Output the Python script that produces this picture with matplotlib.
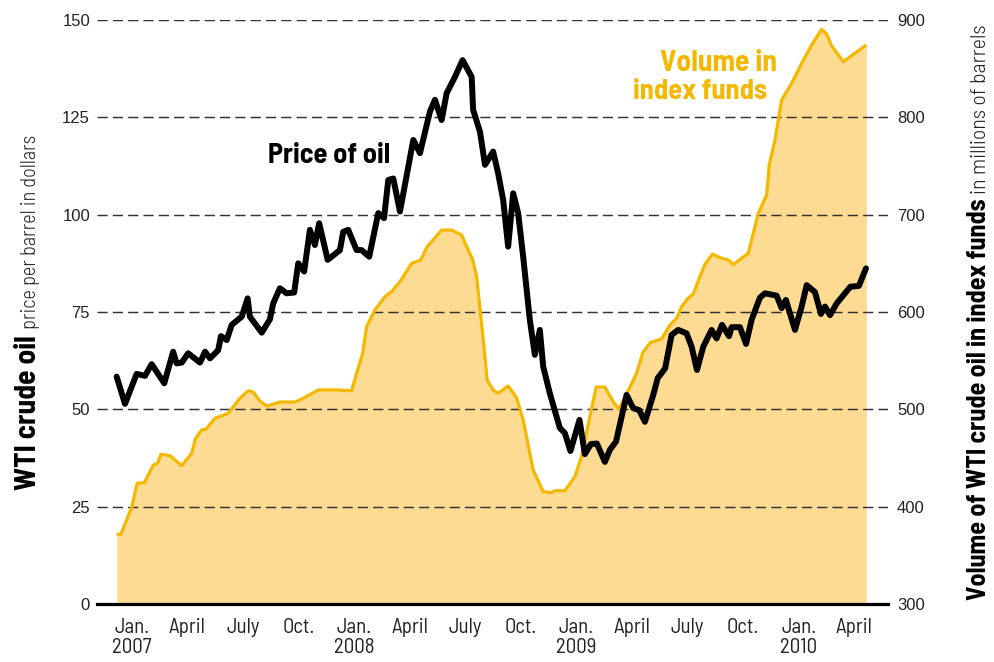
import os
import matplotlib
matplotlib.use("Agg")
import matplotlib.pyplot as plt
from matplotlib import font_manager as fm

# ---------------- data (months since Jan. 2007) ----------------
price_months = [-0.81, -0.36, 0.27, 0.72, 1.08, 1.76, 2.24, 2.43, 2.70, 3.05,
                3.69, 3.96, 4.23, 4.67, 4.82, 5.13, 5.40, 5.94, 6.26, 6.38,
                7.02, 7.46, 7.64, 8.00, 8.36, 8.77, 8.99, 9.31, 9.62, 9.89,
                10.12, 10.58, 11.24, 11.42, 11.69, 12.14, 12.41, 12.82, 13.31, 13.62,
                13.85, 14.12, 14.48, 15.20, 15.56, 16.10, 16.37, 16.73, 17.00, 17.45,
                17.86, 18.35, 18.43, 18.80, 19.07, 19.51, 19.78, 20.05, 20.32, 20.59,
                20.86, 21.13, 21.49, 21.76, 22.03, 22.21, 22.57, 23.11, 23.38, 23.68,
                24.17, 24.46, 24.79, 25.11, 25.54, 25.81, 26.14, 26.71, 27.07, 27.39,
                27.70, 28.15, 28.39, 28.79, 29.14, 29.50, 29.95, 30.22, 30.51, 30.85,
                31.30, 31.57, 31.86, 32.24, 32.38, 32.83, 33.16, 33.46, 33.91, 34.18,
                34.81, 35.08, 35.31, 35.80, 36.16, 36.43, 36.88, 37.20, 37.42, 37.69,
                38.05, 38.79, 39.25, 39.63]
price_usd = [58.4, 51.4, 59.1, 58.6, 61.6, 56.7, 64.8, 61.8, 62.0, 64.4,
             62.0, 64.8, 63.1, 65.2, 68.8, 67.8, 71.7, 73.8, 78.5, 73.8,
             69.7, 73.1, 77.2, 81.1, 79.8, 80.0, 87.5, 85.4, 96.1, 92.2,
             97.8, 88.4, 90.9, 95.6, 96.1, 90.9, 90.9, 89.2, 100.4, 99.1,
             108.9, 109.3, 100.8, 119.2, 115.8, 126.5, 129.5, 124.3, 131.2, 135.4,
             139.7, 135.4, 126.9, 121.3, 112.8, 116.2, 110.6, 103.8, 91.8, 105.5,
             100.4, 89.2, 73.0, 64.0, 70.4, 61.0, 54.1, 45.2, 43.9, 39.3,
             47.3, 38.5, 41.1, 41.2, 36.5, 39.6, 41.7, 53.7, 50.3, 49.8,
             46.8, 53.7, 58.0, 60.5, 69.1, 70.4, 69.5, 66.1, 60.1, 66.1,
             70.4, 68.2, 71.7, 68.8, 71.1, 71.1, 66.8, 73.0, 78.7, 79.8,
             79.2, 76.0, 78.1, 70.4, 76.4, 81.9, 80.1, 74.5, 76.4, 74.2,
             77.2, 81.5, 81.7, 86.2]

volume_months = [-0.81, -0.58, 0.00, 0.30, 0.68, 1.17, 1.40, 1.58, 2.07, 2.70,
                 3.24, 3.45, 3.78, 4.01, 4.50, 5.21, 5.84, 6.29, 6.56, 6.92,
                 7.29, 8.00, 8.81, 9.26, 10.07, 11.15, 11.87, 12.14, 12.47, 12.68,
                 13.13, 13.67, 14.03, 14.48, 15.11, 15.60, 15.95, 16.73, 17.27, 17.81,
                 18.08, 18.40, 18.62, 18.94, 19.19, 19.51, 19.78, 20.32, 20.78, 21.13,
                 21.67, 22.21, 22.67, 22.84, 23.38, 23.92, 24.28, 24.73, 25.07, 25.54,
                 25.99, 26.30, 26.95, 27.25, 27.59, 28.00, 28.60, 29.05, 29.41, 29.68,
                 30.02, 30.31, 30.67, 30.94, 31.34, 31.84, 32.20, 32.47, 33.28, 33.82,
                 34.27, 34.41, 34.72, 35.08, 35.62, 36.16, 36.70, 37.24, 37.51, 37.78,
                 38.41, 39.65]
volume_mbbl = [371.6, 371.6, 399.4, 424.0, 424.6, 442.8, 444.6, 453.8, 452.4, 442.1,
               454.8, 470.2, 478.8, 479.5, 490.8, 495.9, 511.3, 519.1, 517.8, 508.6,
               503.4, 507.5, 507.5, 511.3, 519.9, 519.9, 519.1, 537.0, 557.6, 584.9,
               602.1, 615.7, 620.9, 631.1, 650.0, 653.4, 667.1, 684.2, 684.2, 679.1,
               667.1, 654.1, 636.3, 578.1, 530.1, 519.9, 516.5, 524.0, 511.6, 489.0,
               437.7, 415.4, 414.4, 416.4, 416.4, 430.8, 451.3, 492.4, 522.9, 522.9,
               507.8, 500.3, 525.0, 537.0, 558.4, 568.7, 572.3, 586.6, 593.5, 605.4,
               613.9, 618.5, 636.3, 649.0, 659.4, 655.2, 653.4, 648.8, 660.3, 701.4,
               720.2, 751.0, 776.7, 817.8, 835.0, 855.5, 874.3, 890.4, 885.6, 873.3,
               857.2, 874.3]

month_ticks = [0, 3, 6, 9, 12, 15, 18, 21, 24, 27, 30, 33, 36, 39]
month_labels = ["Jan.\n2007", "April", "July", "Oct.",
                "Jan.\n2008", "April", "July", "Oct.",
                "Jan.\n2009", "April", "July", "Oct.",
                "Jan.\n2010", "April"]
price_ticks = [0, 25, 50, 75, 100, 125, 150]
volume_ticks = [300, 400, 500, 600, 700, 800, 900]

# ---------------- fonts ----------------
ttf = fm.fontManager.ttflist
by_file = {os.path.basename(f.fname): f.fname for f in ttf}


def pick(candidates, fallback_family, weight="normal"):
    for c in candidates:
        if c in by_file:
            return fm.FontProperties(fname=by_file[c])
    return fm.FontProperties(family=fallback_family, weight=weight)


F_REG = pick(["BarlowSemiCondensed-Regular.ttf", "AsapCondensed-Regular.ttf",
              "LiberationSansNarrow-Regular.ttf"], "DejaVu Sans")
F_LIGHT = pick(["BarlowSemiCondensed-Light.ttf", "BarlowSemiCondensed-Regular.ttf",
                "AsapCondensed-Light.ttf"], "DejaVu Sans")
F_BOLD = pick(["BarlowSemiCondensed-Bold.ttf", "BarlowSemiCondensed-SemiBold.ttf",
               "AsapCondensed-Bold.ttf", "LiberationSansNarrow-Bold.ttf"],
              "DejaVu Sans", "bold")
F_NUM = fm.FontProperties(family="Liberation Sans")

YELLOW = "#F5B800"
FILL = "#FDDB92"
GRID = "#333333"
TXT = "#222222"

W, H = 995, 662
fig = plt.figure(figsize=(W / 100, H / 100), dpi=100)
ax = fig.add_axes([97 / W, 1 - 604 / H, (888 - 97) / W, (604 - 20) / H])

# volume on primary axes (right-hand scale)
ax.set_xlim(-1.87, 40.82)
ax.set_ylim(300, 900)
ax.fill_between(volume_months, volume_mbbl, 300, color=FILL, lw=0, zorder=1)
ax.plot(volume_months, volume_mbbl, color=YELLOW, lw=2.3, zorder=3,
        solid_joinstyle="round", solid_capstyle="butt")

# price on twin axes (left-hand scale)
ax2 = ax.twinx()
ax2.set_ylim(0, 150)
ax2.plot(price_months, price_usd, color="black", lw=4.3, zorder=4,
         solid_joinstyle="round", solid_capstyle="round")

ax.yaxis.tick_right()
ax.yaxis.set_label_position("right")
ax2.yaxis.tick_left()
ax2.yaxis.set_label_position("left")

ax.set_yticks(volume_ticks)
ax.set_axisbelow(False)
ax.grid(axis="y", linestyle=(0, (7, 3.5)), color=GRID, lw=1.05)
ax.grid(axis="x", visible=False)
for s in ["left", "right", "top"]:
    ax.spines[s].set_visible(False)
ax.spines["bottom"].set_linewidth(2.3)
ax.spines["bottom"].set_color("black")
ax.spines["bottom"].set_zorder(5)
ax.tick_params(axis="y", length=0, pad=6.5, labelsize=12, labelcolor=TXT,
               left=False, labelleft=False, right=True, labelright=True)
for lab in ax.get_yticklabels():
    lab.set_fontproperties(F_NUM)
    lab.set_fontsize(12)
ax.set_xticks(month_ticks)
ax.set_xticklabels(month_labels, color=TXT, linespacing=1.05)
for lab in ax.get_xticklabels():
    lab.set_fontproperties(F_REG)
    lab.set_fontsize(15)
ax.tick_params(axis="x", length=0, pad=10)

ax2.set_yticks(price_ticks)
for s in ax2.spines.values():
    s.set_visible(False)
ax2.tick_params(axis="y", length=0, pad=5, labelcolor=TXT,
                left=True, labelleft=True, right=False, labelright=False)
for lab in ax2.get_yticklabels():
    lab.set_fontproperties(F_NUM)
    lab.set_fontsize(12)

# ---------------- text annotations ----------------
texts = []


def add(x, y, s, fp, size, target, color, **kw):
    t = fig.text(x / W, 1 - y / H, s, fontproperties=fp, color=color, **kw)
    t.set_fontsize(size)
    texts.append((t, target, kw.get("rotation", 0)))
    return t


add(268, 163, "Price of oil", F_BOLD, 19, 122, "black", ha="left", va="baseline")
add(777, 71, "Volume in", F_BOLD, 21, 117, YELLOW, ha="right", va="baseline")
add(767, 99, "index funds", F_BOLD, 21, 134, YELLOW, ha="right", va="baseline")
tl = add(36, 490, "WTI crude oil", F_BOLD, 20, 155, "black", rotation=90,
         rotation_mode="anchor", ha="left", va="baseline")
tr = add(986, 600, "Volume of WTI crude oil in index funds", F_BOLD, 20, 402, "black",
         rotation=90, rotation_mode="anchor", ha="left", va="baseline")

# fit sizes so text lengths match the reference
fig.canvas.draw()
r = fig.canvas.get_renderer()
for t, target, rot in texts:
    bb = t.get_window_extent(r)
    length = bb.height if rot == 90 else bb.width
    t.set_fontsize(t.get_fontsize() * target / length)

fig.canvas.draw()
bl = tl.get_window_extent(r)
br = tr.get_window_extent(r)
sl = fig.text(36 / W, (bl.y1 + 6) / H, "price per barrel in dollars", rotation=90,
              rotation_mode="anchor", ha="left", va="baseline", fontproperties=F_LIGHT,
              color=TXT)
sl.set_fontsize(15)
sr = fig.text(986 / W, (br.y1 + 5) / H, "in millions of barrels", rotation=90,
              rotation_mode="anchor", ha="left", va="baseline", fontproperties=F_LIGHT,
              color=TXT)
sr.set_fontsize(15)
fig.canvas.draw()
for t, target in [(sl, 194), (sr, 170)]:
    bb = t.get_window_extent(r)
    t.set_fontsize(t.get_fontsize() * target / bb.height)

fig.savefig("out.png", dpi=100)
